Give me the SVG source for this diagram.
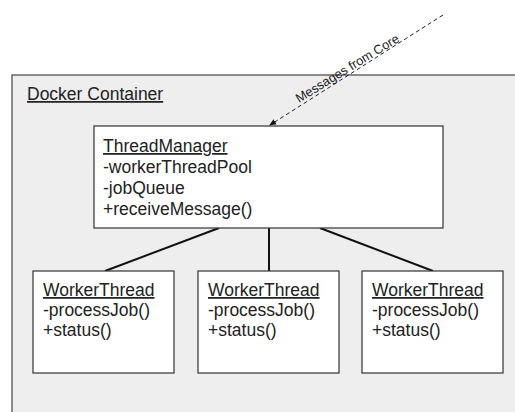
<svg xmlns="http://www.w3.org/2000/svg" width="515" height="412" viewBox="0 0 515 412">
  <style>
    text { font-family: "Liberation Sans", Arial, sans-serif; fill: #222; }
    .t { font-size: 17.5px; }
    .u { text-decoration: underline; }
    .box { fill: #fff; stroke: #333; stroke-width: 1.2; }
    .link { stroke: #111; stroke-width: 2; fill: none; }
  </style>
  <defs>
    <marker id="arr" markerWidth="8" markerHeight="8" refX="6" refY="4" orient="auto" markerUnits="userSpaceOnUse">
      <path d="M0,1 L7,4 L0,7 Z" fill="#111"/>
    </marker>
  </defs>
  <rect width="515" height="412" fill="#fff"/>

  <g id="container">
    <rect x="12" y="75" width="520" height="350" fill="#eeeeee" stroke="#444" stroke-width="1.2"/>
    <text class="t u" x="27" y="100">Docker Container</text>
  </g>

  <g id="connectors">
    <line x1="443" y1="15" x2="270" y2="125" stroke="#222" stroke-width="1" stroke-dasharray="4,3" marker-end="url(#arr)"/>
    <text x="0" y="0" font-size="12.8" transform="translate(299,103) rotate(-31.5)">Messages from Core</text>
    <line class="link" x1="219" y1="228" x2="105" y2="271"/>
    <line class="link" x1="269" y1="228" x2="269" y2="271"/>
    <line class="link" x1="320" y1="228" x2="433" y2="271"/>
  </g>

  <g id="threadManager">
    <rect class="box" x="94" y="126" width="349" height="102"/>
    <text class="t u" x="103" y="152">ThreadManager</text>
    <text class="t" x="103" y="173">-workerThreadPool</text>
    <text class="t" x="103" y="194">-jobQueue</text>
    <text class="t" x="103" y="215">+receiveMessage()</text>
  </g>

  <g id="worker1">
    <rect class="box" x="33" y="271" width="141" height="102"/>
    <text class="t u" x="43" y="296">WorkerThread</text>
    <text class="t" x="43" y="316">-processJob()</text>
    <text class="t" x="43" y="336">+status()</text>
  </g>

  <g id="worker2">
    <rect class="box" x="198" y="271" width="141" height="102"/>
    <text class="t u" x="208" y="296">WorkerThread</text>
    <text class="t" x="208" y="316">-processJob()</text>
    <text class="t" x="208" y="336">+status()</text>
  </g>

  <g id="worker3">
    <rect class="box" x="362" y="271" width="141" height="102"/>
    <text class="t u" x="372" y="296">WorkerThread</text>
    <text class="t" x="372" y="316">-processJob()</text>
    <text class="t" x="372" y="336">+status()</text>
  </g>
</svg>
